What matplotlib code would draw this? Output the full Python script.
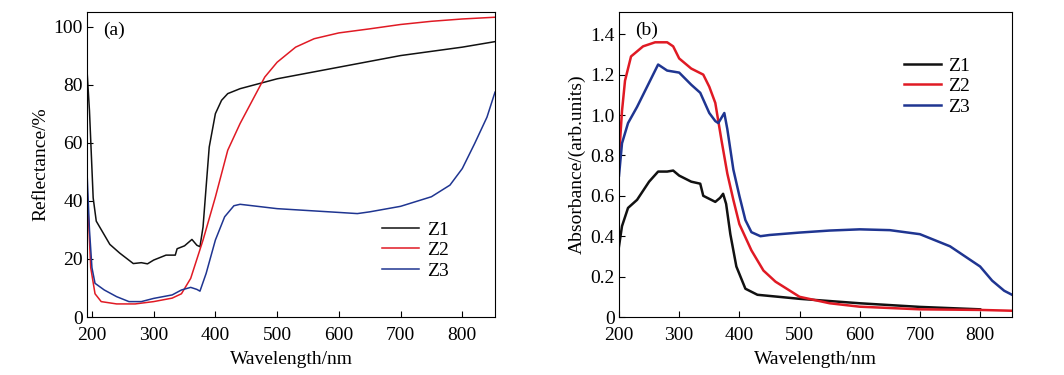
import matplotlib
matplotlib.use("Agg")
import matplotlib.pyplot as plt

plt.rcParams['font.family'] = ['Liberation Serif', 'DejaVu Serif']

# (a) reflectance
wl_a1 = [192, 196, 202, 207, 218, 229, 245, 267, 280, 290, 300, 320, 335, 338, 350, 362,
         370, 375, 380, 385, 390, 400, 410, 420, 440, 470, 500, 600, 700, 800, 853]
r_z1 = [85, 71, 41, 33, 29, 25, 22, 18.4, 18.7, 18.3, 19.6, 21.3, 21.3, 23.5, 24.5, 26.7,
        24.7, 24.2, 31, 44.8, 58.5, 70, 74.6, 76.9, 78.6, 80.3, 82, 86, 90, 92.9, 94.8]

wl_a2 = [192, 198, 205, 215, 240, 270, 300, 330, 345, 360, 380, 400, 420, 440, 460, 480,
         500, 530, 560, 600, 650, 700, 750, 800, 853]
r_z2 = [45, 17, 8, 5.3, 4.5, 4.5, 5.3, 6.5, 8, 13.3, 26.5, 41.3, 57.4, 66.6, 74.6, 82.6,
        87.7, 92.9, 95.8, 97.8, 99.2, 100.7, 101.8, 102.6, 103.2]

wl_a3 = [192, 196, 200, 205, 220, 240, 260, 280, 300, 330, 345, 360, 370, 375, 385, 400,
         415, 430, 440, 500, 600, 630, 650, 700, 750, 780, 800, 820, 840, 853]
r_z3 = [50, 30, 17, 11.6, 9.3, 7, 5.3, 5.3, 6.4, 7.6, 9.3, 10.2, 9.5, 8.9, 15, 26.5,
        34.5, 38.3, 38.8, 37.3, 36, 35.6, 36.2, 38.1, 41.4, 45.4, 51.1, 59.7, 68.8, 77.4]

# (b) absorbance
wl_b1 = [200, 205, 215, 230, 250, 265, 280, 290, 300, 320, 335, 340, 360, 368, 373, 378,
         385, 395, 410, 430, 500, 600, 700, 800]
a_z1 = [0.35, 0.45, 0.54, 0.58, 0.67, 0.72, 0.72, 0.725, 0.70, 0.67, 0.66, 0.60, 0.57,
        0.59, 0.61, 0.56, 0.41, 0.25, 0.14, 0.11, 0.09, 0.068, 0.05, 0.038]

wl_b2 = [200, 205, 210, 220, 240, 260, 280, 290, 300, 320, 340, 350, 360, 370, 380, 390,
         400, 420, 440, 460, 500, 550, 600, 700, 800, 853]
a_z2 = [0.79, 1.02, 1.17, 1.29, 1.34, 1.36, 1.36, 1.34, 1.28, 1.23, 1.20, 1.14, 1.06,
        0.88, 0.71, 0.58, 0.46, 0.33, 0.23, 0.175, 0.10, 0.068, 0.051, 0.038, 0.035, 0.031]

wl_b3 = [200, 205, 215, 230, 250, 265, 280, 300, 320, 335, 350, 360, 365, 375, 380, 390,
         400, 410, 420, 435, 450, 500, 550, 600, 650, 700, 750, 780, 800, 820, 840, 853]
a_z3 = [0.70, 0.86, 0.96, 1.04, 1.16, 1.25, 1.22, 1.21, 1.15, 1.11, 1.01, 0.97, 0.96,
        1.01, 0.93, 0.73, 0.60, 0.48, 0.42, 0.40, 0.406, 0.418, 0.428, 0.434, 0.43, 0.41,
        0.35, 0.29, 0.25, 0.18, 0.13, 0.11]

black = '#111111'
red = '#e01a24'
blue = '#1f3591'
fs = 14

fig = plt.figure(figsize=(10.64, 3.75), dpi=100)
ax1 = fig.add_axes([87/1064, 1-317/375, 408/1064, 305/375])
ax2 = fig.add_axes([619/1064, 1-317/375, 393/1064, 305/375])

ax1.plot(wl_a1, r_z1, color=black, lw=1.1, label='Z1')
ax1.plot(wl_a2, r_z2, color=red, lw=1.1, label='Z2')
ax1.plot(wl_a3, r_z3, color=blue, lw=1.1, label='Z3')
ax1.set_xlim(192, 853)
ax1.set_ylim(0, 105)
ax1.set_xticks([200, 300, 400, 500, 600, 700, 800])
ax1.set_yticks([0, 20, 40, 60, 80, 100])
ax1.set_xlabel('Wavelength/nm', fontsize=fs, labelpad=5)
ax1.set_ylabel('Reflectance/%', fontsize=fs, labelpad=3)
ax1.text(0.04, 0.94, '(a)', transform=ax1.transAxes, fontsize=fs, va='center')
ax1.legend(frameon=False, loc='lower left', bbox_to_anchor=(0.68, 0.065),
           fontsize=fs, handlelength=1.9, labelspacing=0.15, handletextpad=0.4)

ax2.plot(wl_b1, a_z1, color=black, lw=1.8, label='Z1')
ax2.plot(wl_b2, a_z2, color=red, lw=1.8, label='Z2')
ax2.plot(wl_b3, a_z3, color=blue, lw=1.8, label='Z3')
ax2.set_xlim(200, 853)
ax2.set_ylim(0, 1.51)
ax2.set_xticks([200, 300, 400, 500, 600, 700, 800])
ax2.set_yticks([0, 0.2, 0.4, 0.6, 0.8, 1.0, 1.2, 1.4])
ax2.set_yticklabels(['0', '0.2', '0.4', '0.6', '0.8', '1.0', '1.2', '1.4'])
ax2.set_xlabel('Wavelength/nm', fontsize=fs, labelpad=5)
ax2.set_ylabel('Absorbance/(arb.units)', fontsize=fs, labelpad=3)
ax2.text(0.04, 0.94, '(b)', transform=ax2.transAxes, fontsize=fs, va='center')
ax2.legend(frameon=False, loc='upper left', bbox_to_anchor=(0.68, 0.91),
           fontsize=fs, handlelength=1.9, labelspacing=0.15, handletextpad=0.4)

for ax in (ax1, ax2):
    ax.tick_params(direction='in', labelsize=fs, length=4, width=0.8)
    ax.tick_params(axis='x', pad=7)
    ax.tick_params(axis='y', pad=3)
    for s in ax.spines.values():
        s.set_linewidth(0.8)

fig.savefig('out.png', dpi=100)
